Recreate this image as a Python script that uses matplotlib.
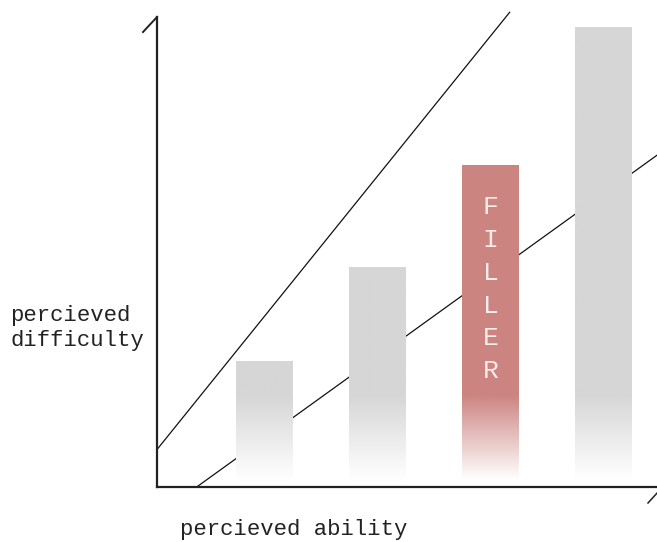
import numpy as np
import matplotlib.pyplot as plt

# bar data (arbitrary units, axis runs 0..10)
positions = [1, 2, 3, 4]
heights = [2.68, 4.66, 6.83, 9.77]
bar_colors = ['#d6d6d6', '#d6d6d6', '#cc8481', '#d6d6d6']
highlight_label = 'FILLER'

# two reference lines (x, y end points)
line1_x = [0.05, 3.17]
line1_y = [0.80, 10.1]
line2_x = [0.40, 4.48]
line2_y = [0.0, 7.07]

x_label = 'percieved ability'
y_label = 'percieved\ndifficulty'

mono = ['Liberation Mono', 'DejaVu Sans Mono']

fig = plt.figure(figsize=(6.57, 5.42), dpi=100)
ax = fig.add_axes([157 / 657, 55 / 542, 500 / 657, 470 / 542])
ax.set_xlim(0.049, 4.474)
ax.set_ylim(0, 10)

# lines first, bars cover them
ax.plot(line1_x, line1_y, color='#111111', lw=0.9, clip_on=False, zorder=1)
ax.plot(line2_x, line2_y, color='#111111', lw=0.9, clip_on=False, zorder=1)

# bars with a fade to white at the bottom
width = 0.5
ny = 400
for x, h, c in zip(positions, heights, bar_colors):
    rgb = np.array(plt.matplotlib.colors.to_rgb(c))
    yy = np.linspace(0, h, ny)
    t = np.clip((yy - 0.15) / (1.95 - 0.15), 0, 1)
    col = 1 - (1 - rgb)[None, :] * t[:, None]
    img = np.repeat(col[:, None, :], 2, axis=1)
    ax.imshow(img, extent=[x - width / 2, x + width / 2, 0, h], origin='lower',
              aspect='auto', zorder=2, interpolation='bilinear')

# vertical label on the highlighted bar
hx = positions[2]
for i, ch in enumerate(highlight_label):
    ax.text(hx, 5.96 - i * 0.70, ch, ha='center', va='center', color='#f7ecea',
            fontsize=19, family=mono, zorder=3)

ax.set_xlim(0.049, 4.474)
ax.set_ylim(0, 10)

for s in ['top', 'right']:
    ax.spines[s].set_visible(False)
for s in ['left', 'bottom']:
    ax.spines[s].set_linewidth(1.6)
    ax.spines[s].set_color('#222222')
ax.set_xticks([])
ax.set_yticks([])

# small hand-drawn hooks at the axis ends
ax.plot([0.0, -0.028], [1.0, 0.968], transform=ax.transAxes, color='#222222',
        lw=1.4, clip_on=False)
ax.plot([0.982, 1.0], [-0.034, -0.013], transform=ax.transAxes, color='#222222',
        lw=1.1, clip_on=False)

fig.text(294 / 657, 1 - 530 / 542, x_label, ha='center', va='center',
         fontsize=16, family=mono, color='#222222')
fig.text(10 / 657, 1 - 328 / 542, y_label, ha='left', va='center',
         fontsize=16, family=mono, color='#222222', linespacing=1.3)

fig.savefig('out.png', dpi=100)
